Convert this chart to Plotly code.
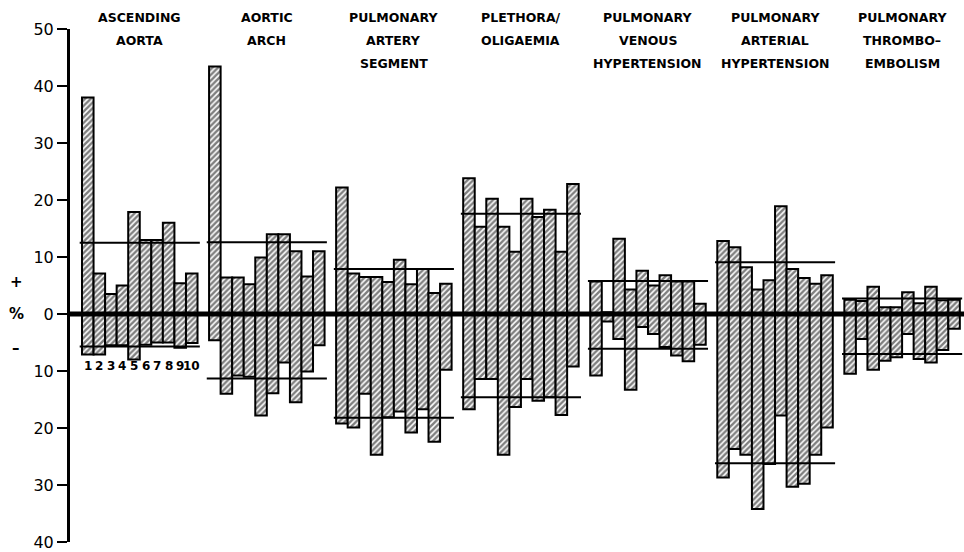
import plotly.graph_objects as go

# Percentage change per case (10 cases per radiological feature)
titles = [
    ["ASCENDING", "AORTA"],
    ["AORTIC", "ARCH"],
    ["PULMONARY", "ARTERY", "SEGMENT"],
    ["PLETHORA/", "OLIGAEMIA"],
    ["PULMONARY", "VENOUS", "HYPERTENSION"],
    ["PULMONARY", "ARTERIAL", "HYPERTENSION"],
    ["PULMONARY", "THROMBO\u2013", "EMBOLISM"],
]
case_labels = ["1", "2", "3", "4", "5", "6", "7", "8", "9", "10"]

# positive (+%) extent of each bar
upper = [
    [38.0, 7.1, 3.5, 5.0, 17.9, 13.0, 13.0, 16.0, 5.4, 7.1],
    [43.4, 6.4, 6.4, 5.2, 9.9, 14.0, 14.0, 11.0, 6.6, 11.0],
    [22.2, 7.1, 6.5, 6.5, 5.6, 9.5, 5.2, 7.9, 3.7, 5.3],
    [23.8, 15.3, 20.2, 15.3, 10.9, 20.2, 17.0, 18.3, 10.9, 22.8],
    [5.7, 0.3, 13.2, 4.3, 7.6, 5.0, 6.8, 5.7, 5.7, 1.8],
    [12.8, 11.7, 8.2, 4.3, 5.9, 18.9, 7.9, 6.3, 5.3, 6.8],
    [2.5, 2.3, 4.8, 1.2, 1.2, 3.8, 1.9, 4.8, 2.4, 2.5],
]
# negative (-%) extent of each bar
lower = [
    [7.1, 7.1, 5.5, 5.5, 8.0, 5.4, 5.0, 5.0, 5.9, 5.1],
    [4.6, 14.0, 10.8, 11.0, 17.8, 13.9, 8.5, 15.5, 10.1, 5.5],
    [19.2, 19.9, 14.0, 24.7, 18.1, 17.1, 20.8, 16.7, 22.4, 9.8],
    [16.7, 11.4, 11.4, 24.7, 16.3, 11.4, 15.2, 14.6, 17.7, 9.2],
    [10.8, 1.3, 4.4, 13.3, 2.3, 3.5, 5.8, 7.3, 8.3, 5.4],
    [28.7, 23.7, 24.7, 34.2, 26.3, 17.8, 30.3, 29.8, 24.7, 19.9],
    [10.5, 4.4, 9.8, 8.2, 7.6, 3.5, 7.9, 8.5, 6.3, 2.6],
]
# group mean levels
mean_upper = [12.5, 12.6, 7.9, 17.6, 5.8, 9.1, 2.7]
mean_lower = [5.7, 11.3, 18.2, 14.6, 6.1, 26.2, 7.0]

y_ticks = [50, 40, 30, 20, 10, 0, -10, -20, -30, -40]
y_tick_text = ["50", "40", "30", "20", "10", "0", "10", "20", "30", "40"]

PITCH = 11  # slots per group (10 bars + 1 gap)

xs, bases, heights = [], [], []
for g in range(len(upper)):
    for i in range(len(upper[g])):
        xs.append(g * PITCH + i)
        bases.append(-lower[g][i])
        heights.append(upper[g][i] + lower[g][i])

fig = go.Figure()
fig.add_trace(go.Bar(
    x=xs, y=heights, base=bases, width=1.0,
    marker=dict(
        color="white",
        line=dict(color="black", width=2),
        pattern=dict(shape="/", fgcolor="black", bgcolor="white",
                     size=4, solidity=0.62),
    ),
    showlegend=False, hoverinfo="skip",
))

# group mean lines
for g in range(len(upper)):
    x0, x1 = g * PITCH - 0.7, g * PITCH + 9.7
    for level in (mean_upper[g], -mean_lower[g]):
        fig.add_trace(go.Scatter(
            x=[x0, x1], y=[level, level], mode="lines",
            line=dict(color="black", width=2),
            showlegend=False, hoverinfo="skip",
        ))

# zero line drawn over the bars
fig.add_shape(type="line", xref="paper", x0=0, x1=1, yref="y", y0=0, y1=0,
              line=dict(color="black", width=5), layer="above")

annotations = []
title_font = dict(family="DejaVu Sans", size=12.5, color="black")
line_y = [1.0215, 0.9767, 0.9318]  # title rows, paper units
for g, lines in enumerate(titles):
    for k, txt in enumerate(lines):
        annotations.append(dict(
            x=g * PITCH + 4.5, y=line_y[k], xref="x", yref="paper",
            text="<b>" + txt + "</b>", showarrow=False,
            font=title_font, xanchor="center", yanchor="middle",
        ))

for i, lab in enumerate(case_labels):
    annotations.append(dict(
        x=i, y=-9.2, xref="x", yref="y", text="<b>" + lab + "</b>",
        showarrow=False, xanchor="center", yanchor="middle",
        font=dict(family="DejaVu Sans", size=12, color="black"),
    ))

for sym, yv in (("+", 5.6), ("%", 0.0), ("\u2013", -5.9)):
    annotations.append(dict(
        x=0, xref="paper", xshift=-54, y=yv, yref="y",
        text="<b>" + sym + "</b>", showarrow=False,
        xanchor="center", yanchor="middle",
        font=dict(family="DejaVu Sans", size=15, color="black"),
    ))

fig.update_layout(
    width=964, height=552,
    margin=dict(l=70, r=0, t=29, b=10),
    paper_bgcolor="white", plot_bgcolor="white",
    barmode="overlay",
    xaxis=dict(range=[-1.54, 75.86], visible=False),
    yaxis=dict(
        range=[-40, 50], tickvals=y_ticks, ticktext=y_tick_text,
        showgrid=False, zeroline=False,
        showline=True, linecolor="black", linewidth=3,
        ticks="outside", ticklen=10, tickwidth=2, tickcolor="black",
        tickfont=dict(family="DejaVu Sans", size=16, color="black"),
    ),
    annotations=annotations,
)

fig.write_html("out.html")
